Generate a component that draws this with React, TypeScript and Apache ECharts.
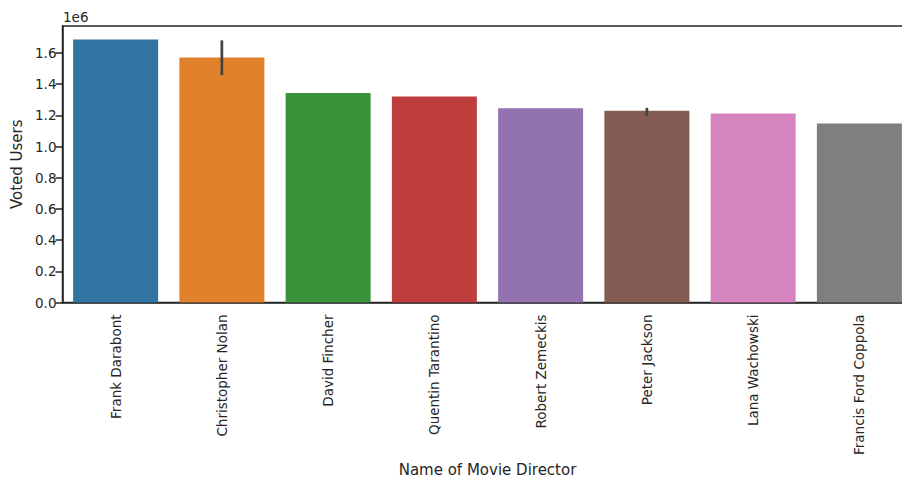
import React, { useEffect, useRef } from "react";
import * as echarts from "echarts";

const directors = [
  "Frank Darabont",
  "Christopher Nolan",
  "David Fincher",
  "Quentin Tarantino",
  "Robert Zemeckis",
  "Peter Jackson",
  "Lana Wachowski",
  "Francis Ford Coppola",
];
const votedUsers = [1686000, 1571000, 1344000, 1321000, 1245000, 1229000, 1212000, 1148000];
const errLow = [null, 1457000, null, null, null, 1197000, null, null];
const errHigh = [null, 1681000, null, null, null, 1248000, null, null];
const barColors = ["#3274a1", "#e1812c", "#3a923a", "#c03d3e", "#9372b2", "#845b53", "#d684bd", "#7f7f7f"];
const yTicks = [0, 200000, 400000, 600000, 800000, 1000000, 1200000, 1400000, 1600000];

const INK = "#262626";
const FONT = "DejaVu Sans";

export default function App() {
  const ref = useRef<HTMLDivElement>(null);
  useEffect(() => {
    if (!ref.current) return;
    const chart = echarts.init(ref.current, undefined, { renderer: "svg" });
    const errData: number[][] = [];
    errLow.forEach((lo, i) => {
      const hi = errHigh[i];
      if (lo != null && hi != null) errData.push([i, lo, hi]);
    });
    chart.setOption({
      animation: false,
      grid: {
        left: 62.5,
        top: 26,
        width: 850,
        height: 276.5,
        show: true,
        borderColor: INK,
        borderWidth: 1.5,
        backgroundColor: "transparent",
        containLabel: false,
        outerBoundsMode: "none",
      },
      graphic: [
        {
          type: "text",
          left: 63,
          top: 10,
          style: { text: "1e6", fill: INK, font: `13.5px ${FONT}` },
        },
      ],
      xAxis: {
        type: "category",
        data: directors,
        name: "Name of Movie Director",
        nameLocation: "middle",
        nameGap: 158,
        nameTextStyle: { color: INK, fontSize: 15, fontFamily: FONT },
        axisLine: { lineStyle: { color: INK, width: 1.5 } },
        axisTick: { alignWithLabel: true, length: 7, lineStyle: { color: INK, width: 1.5 } },
        axisLabel: { rotate: 90, margin: 12, color: INK, fontSize: 13.5, fontFamily: FONT, interval: 0 },
        splitLine: { show: false },
      },
      yAxis: {
        type: "value",
        min: 0,
        max: 1773000,
        interval: 200000,
        name: "Voted Users",
        nameLocation: "middle",
        nameGap: 38,
        nameRotate: 90,
        nameTextStyle: { color: INK, fontSize: 15, fontFamily: FONT },
        axisLine: { show: true, lineStyle: { color: INK, width: 1.5 } },
        axisTick: { show: true, length: 7, lineStyle: { color: INK, width: 1.5 }, customValues: yTicks },
        axisLabel: {
          color: INK,
          fontSize: 13.5,
          fontFamily: FONT,
          margin: 6,
          customValues: yTicks,
          formatter: (v: number) => (v / 1e6).toFixed(1),
        },
        splitLine: { show: false },
      },
      series: [
        {
          type: "bar",
          barWidth: "80%",
          data: votedUsers.map((v, i) => ({ value: v, itemStyle: { color: barColors[i] } })),
        },
        {
          type: "custom",
          encode: { x: 0, y: [1, 2] },
          data: errData,
          z: 10,
          renderItem: (params: any, api: any) => {
            const i = api.value(0);
            const p1 = api.coord([i, api.value(1)]);
            const p2 = api.coord([i, api.value(2)]);
            return {
              type: "line",
              shape: { x1: p1[0], y1: p1[1], x2: p2[0], y2: p2[1] },
              style: { stroke: "#424242", lineWidth: 2.7 },
            };
          },
        },
      ],
    });
    return () => chart.dispose();
  }, []);
  return <div ref={ref} style={{ width: 902, height: 478, position: "absolute", left: 0, top: 0 }} />;
}
